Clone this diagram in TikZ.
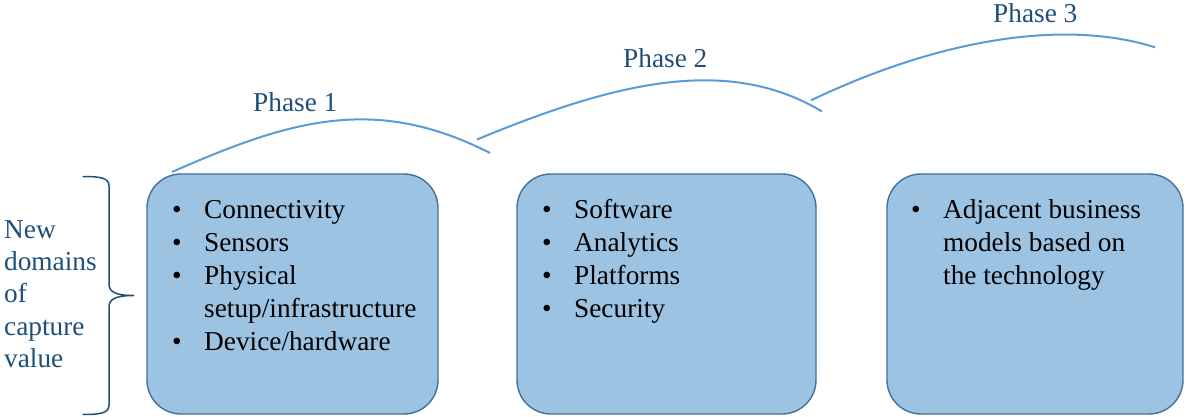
\documentclass[tikz,border=0pt]{standalone}
\usepackage{fontspec}
\setmainfont{Liberation Serif}
\definecolor{boxfill}{HTML}{9DC3E3}
\definecolor{boxline}{HTML}{41719C}
\definecolor{arcblue}{HTML}{5B9BD5}
\definecolor{labelblue}{HTML}{1F4E79}
\newcommand{\bitem}{\makebox[32pt][l]{\textbullet}}
\begin{document}
\begin{tikzpicture}[x=1pt,y=-1pt,
  panel/.style={draw=boxline, fill=boxfill, line width=1.4pt,
    rounded corners=34pt, inner sep=0pt, minimum height=240pt},
  bodytext/.style={anchor=north west, inner sep=0pt, text=black,
    font=\fontsize{27.3}{33}\selectfont},
  phaselabel/.style={anchor=base west, inner sep=0pt, text=labelblue,
    font=\fontsize{27.3}{33}\selectfont},
  sidetext/.style={anchor=north west, inner sep=0pt, text=labelblue,
    font=\fontsize{27.3}{32.3}\selectfont},
  phasearc/.style={draw=arcblue, line width=2pt},
  bracket/.style={draw=labelblue, line width=1.5pt, line cap=round}]
\useasboundingbox (0,0) rectangle (1187,417);

% three panels
\node[panel, minimum width=291pt] (p1) at (292.5,294) {};
\node[panel, minimum width=299pt] (p2) at (666.5,294) {};
\node[panel, minimum width=296pt] (p3) at (1035,294) {};

% panel contents
\node[bodytext] (t1) at (172,194.9) {%
  \begin{tabular}{@{}l@{}l@{}}
  \bitem & Connectivity\\
  \bitem & Sensors\\
  \bitem & Physical\\
         & setup/infrastructure\\
  \bitem & Device/hardware
  \end{tabular}};
\node[bodytext] (t2) at (542,194.9) {%
  \begin{tabular}{@{}l@{}l@{}}
  \bitem & Software\\
  \bitem & Analytics\\
  \bitem & Platforms\\
  \bitem & Security
  \end{tabular}};
\node[bodytext] (t3) at (911,194.9) {%
  \begin{tabular}{@{}l@{}l@{}}
  \bitem & Adjacent business\\
         & models based on\\
         & the technology
  \end{tabular}};

% label on the left and its brace
\node[sidetext] (side) at (4,215.4) {%
  \begin{tabular}{@{}l@{}}
  New\\ domains\\ of\\ capture\\ value
  \end{tabular}};
\draw[bracket] (83,176.5) .. controls (101,176.5) and (109,178) .. (109,186)
  -- (109,284) .. controls (109,292) and (116,295.5) .. (134,295.5)
  .. controls (116,295.5) and (109,299) .. (109,307)
  -- (109,405) .. controls (109,413) and (101,414.5) .. (83,414.5);

% phase arcs
\draw[phasearc] (172,172) .. controls (290,120) and (375,94.4) .. (490,153);
\draw[phasearc] (477,139.5) .. controls (615.6,82) and (727.7,54.9) .. (822,111.5);
\draw[phasearc] (811,100.3) .. controls (946.5,35.8) and (1069.2,20.1) .. (1155,47.3);

% phase labels
\node[phaselabel] (ph1) at (253,112) {Phase 1};
\node[phaselabel] (ph2) at (623,68) {Phase 2};
\node[phaselabel] (ph3) at (993,23) {Phase 3};
\end{tikzpicture}
\end{document}
